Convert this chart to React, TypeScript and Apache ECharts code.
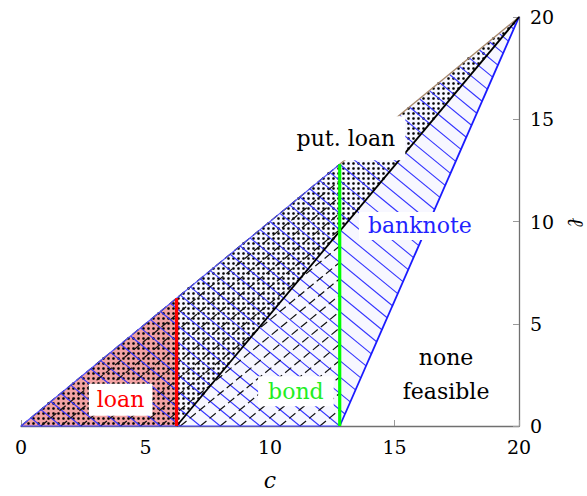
import React, { useEffect, useRef } from "react";
import * as echarts from "echarts";

type P = [number, number];

// ---- data ----
const axisMin = 0;
const axisMax = 20;
const tickStep = 5;
const loanEdge = 6.25;
const bondEdge = 12.8;

const banknoteRegion: P[] = [[0, 0], [bondEdge, 0], [axisMax, axisMax]];
const bondRegion: P[] = [[0, 0], [bondEdge, 0], [bondEdge, bondEdge]];
const putLoanRegion: P[] = [[0, 0], [loanEdge, 0], [axisMax, axisMax]];
const loanRegion: P[] = [[0, 0], [loanEdge, 0], [loanEdge, loanEdge]];

const blackBoundary: P[] = [[loanEdge, 0], [axisMax, axisMax]];
const blueBoundary: P[] = [[bondEdge, 0], [axisMax, axisMax]];
const redBoundary: P[] = [[loanEdge, 0], [loanEdge, loanEdge]];
const greenBoundary: P[] = [[bondEdge, 0], [bondEdge, bondEdge]];
const diagonalLow: P[] = [[0, 0], [bondEdge, bondEdge]];
const diagonalHigh: P[] = [[bondEdge, bondEdge], [axisMax, axisMax]];

const labelTexts = ["loan", "bond", "banknote", "none\nfeasible", "put. loan"];
const labelAnchors: P[] = [[4.0, 1.28], [11.04, 1.7], [16.02, 9.78], [17.07, 2.5], [13.05, 14.07]];

const hatchStep = 0.8; // data units between hatch lines

// ---- helpers ----
function signedArea(poly: P[]) {
  let a = 0;
  for (let i = 0; i < poly.length; i++) {
    const [x1, y1] = poly[i];
    const [x2, y2] = poly[(i + 1) % poly.length];
    a += x1 * y2 - x2 * y1;
  }
  return a / 2;
}

function clipLine(p0: P, d: P, polyIn: P[]): [P, P] | null {
  const poly = signedArea(polyIn) >= 0 ? polyIn : [...polyIn].reverse();
  let tmin = -1e9;
  let tmax = 1e9;
  for (let i = 0; i < poly.length; i++) {
    const a = poly[i];
    const b = poly[(i + 1) % poly.length];
    const nx = -(b[1] - a[1]);
    const ny = b[0] - a[0];
    const num = nx * (p0[0] - a[0]) + ny * (p0[1] - a[1]);
    const den = nx * d[0] + ny * d[1];
    if (Math.abs(den) < 1e-12) {
      if (num < 0) return null;
    } else {
      const t = -num / den;
      if (den > 0) tmin = Math.max(tmin, t);
      else tmax = Math.min(tmax, t);
    }
  }
  if (tmax - tmin < 1e-6) return null;
  return [
    [p0[0] + tmin * d[0], p0[1] + tmin * d[1]],
    [p0[0] + tmax * d[0], p0[1] + tmax * d[1]],
  ];
}

function pointInPoly(x: number, y: number, poly: number[][]) {
  let inside = false;
  for (let i = 0, j = poly.length - 1; i < poly.length; j = i++) {
    const xi = poly[i][0], yi = poly[i][1];
    const xj = poly[j][0], yj = poly[j][1];
    if (yi > y !== yj > y && x < ((xj - xi) * (y - yi)) / (yj - yi) + xi) inside = !inside;
  }
  return inside;
}

const FONT = "DejaVu Serif";

function renderItem(_params: any, api: any) {
  const c = (p: P) => api.coord(p) as number[];
  const children: any[] = [];
  const polyPx = (poly: P[]) => poly.map((p) => c(p));
  const seg = (pts: P[], stroke: string, lineWidth: number, extra: any = {}) => {
    const a = c(pts[0]);
    const b = c(pts[1]);
    return {
      type: "line",
      shape: { x1: a[0], y1: a[1], x2: b[0], y2: b[1] },
      style: { stroke, lineWidth, lineCap: "butt", ...extra },
    };
  };

  // region fills
  children.push({ type: "polygon", shape: { points: polyPx(banknoteRegion) }, style: { fill: "#f7f7ff" } });
  children.push({ type: "polygon", shape: { points: polyPx(loanRegion) }, style: { fill: "#f2a3a3" } });

  // dot pattern (put. loan region)
  const dp = polyPx(putLoanRegion);
  const o = c([0, 0]);
  const xs = dp.map((p) => p[0]);
  const ys = dp.map((p) => p[1]);
  const minX = Math.min(...xs), maxX = Math.max(...xs);
  const minY = Math.min(...ys), maxY = Math.max(...ys);
  const step = 5;
  for (let x = o[0] + 2.5 + Math.floor((minX - o[0]) / step) * step; x <= maxX; x += step) {
    for (let y = o[1] - 2.5 - Math.floor((o[1] - maxY) / step) * step; y >= minY; y -= step) {
      if (pointInPoly(x, y, dp)) {
        children.push({ type: "circle", shape: { cx: x, cy: y, r: 1.3 }, style: { fill: "#000" } });
      }
    }
  }

  // blue "\" hatch (banknote region)
  for (let k = hatchStep; k < 2 * axisMax; k += hatchStep) {
    const s = clipLine([k, 0], [-1, 1], banknoteRegion);
    if (s) children.push(seg(s, "#3434ff", 1.1));
  }
  // black dashed "/" hatch (bond region)
  for (let k = -bondEdge; k < bondEdge; k += hatchStep) {
    const s = clipLine([k, 0], [1, 1], bondRegion);
    if (s) children.push(seg(s, "#111", 1.2, { lineDash: [8, 4] }));
  }

  // boundaries
  children.push(seg(diagonalLow, "#5050ff", 1.1));
  children.push(seg(diagonalHigh, "#a88a6c", 1.3));
  children.push(seg([[0, 0], [bondEdge, 0]], "#3d3dff", 1.2));
  children.push(seg(blueBoundary, "#1a1aff", 1.8));
  children.push(seg(blackBoundary, "#000", 1.8));
  children.push(seg(redBoundary, "#ff0000", 3.2));
  children.push(seg(greenBoundary, "#00ff00", 3.2));

  // region labels
  const styles = [
    { fill: "#ff0000", bg: "#ffffff", pad: [3, 8] },
    { fill: "#22ee22", bg: "#ffffff", pad: [2, 10] },
    { fill: "#2222ff", bg: "#ffffff", pad: [1, 9] },
    { fill: "#000000", bg: "transparent", pad: [0, 0] },
    { fill: "#000000", bg: "#ffffff", pad: [9, 10] },
  ];
  labelTexts.forEach((t, i) => {
    const p = c(labelAnchors[i]);
    const st = styles[i];
    children.push({
      type: "text",
      x: p[0],
      y: p[1],
      style: {
        text: t,
        fill: st.fill,
        fontFamily: FONT,
        fontSize: 22,
        align: "center",
        verticalAlign: "middle",
        lineHeight: i === 3 ? 34 : 26,
        backgroundColor: st.bg,
        padding: st.pad,
      },
    });
  });

  return { type: "group", children };
}

export default function App() {
  const ref = useRef<HTMLDivElement>(null);
  useEffect(() => {
    document.body.style.margin = "0";
    if (!ref.current) return;
    const chart = echarts.init(ref.current, undefined, { renderer: "svg" });
    const axisCommon = {
      type: "value" as const,
      min: axisMin,
      max: axisMax,
      interval: tickStep,
      splitLine: { show: false },
      axisLine: { show: true, onZero: false, lineStyle: { color: "#707070", width: 1.3 } },
      axisTick: { show: true, inside: true, length: 6, lineStyle: { color: "#9a9a9a", width: 1 } },
      axisLabel: { color: "#000", fontFamily: FONT, fontSize: 19, margin: 11 },
    };
    chart.setOption({
      animation: false,
      backgroundColor: "#ffffff",
      grid: { left: 21, right: 68, top: 17, bottom: 64 },
      xAxis: {
        ...axisCommon,
        name: "c",
        nameLocation: "middle",
        nameGap: 43,
        nameTextStyle: { color: "#000", fontFamily: FONT, fontStyle: "italic", fontSize: 22 },
      },
      yAxis: { ...axisCommon, position: "right" },
      graphic: [
        {
          type: "text",
          x: 575,
          y: 222,
          rotation: -Math.PI / 2,
          style: {
            text: "ℓ",
            fill: "#000",
            fontFamily: FONT,
            fontStyle: "italic",
            fontSize: 22,
            align: "center",
            verticalAlign: "middle",
          },
        },
      ],
      series: [
        {
          type: "custom",
          coordinateSystem: "cartesian2d",
          data: [[0, 0]],
          renderItem,
          clip: false,
          silent: true,
          z: 1,
        },
      ],
    });
    return () => chart.dispose();
  }, []);
  return <div ref={ref} style={{ width: 587, height: 496 }} />;
}
